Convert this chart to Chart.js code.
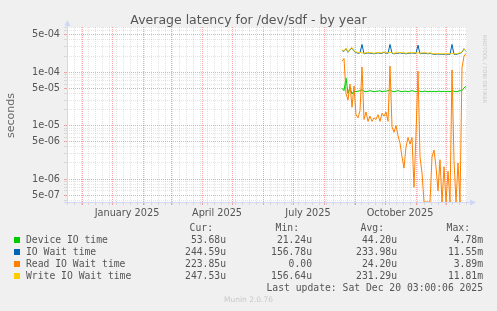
<!DOCTYPE html>
<html><head><meta charset="utf-8">
<script src="https://cdn.jsdelivr.net/npm/chart.js@4/dist/chart.umd.min.js"></script>
<style>
html,body{margin:0;padding:0;background:#f0f0f0;width:497px;height:311px;overflow:hidden;}
#wrap{position:relative;width:497px;height:311px;}
#c{position:absolute;left:0;top:0;}
.t{position:absolute;white-space:pre;line-height:1;}
.mono{font-family:'DejaVu Sans Mono',monospace;font-size:9.72px;color:#555;}
.sq{position:absolute;width:6px;height:6px;left:14px;}
</style></head>
<body><div id="wrap">
<canvas id="c" width="497" height="311"></canvas>
<div class="t" style="left:0;width:497px;top:14px;text-align:center;font-family:'DejaVu Sans';font-size:12.5px;color:#555;">Average latency for /dev/sdf - by year</div>
<div class="t" style="left:5px;top:138px;font-family:'DejaVu Sans';font-size:11px;color:#666;transform-origin:0 0;transform:rotate(-90deg);">seconds</div>
<div class="t" style="left:487px;top:35px;font-family:'DejaVu Sans';font-size:5.3px;color:#c8c8c8;transform-origin:0 0;transform:rotate(90deg);">RRDTOOL / TOBI OETIKER</div>
<div id="legend"></div>
<div class="t" style="left:0;width:497px;top:296px;text-align:center;font-family:'DejaVu Sans';font-size:7.5px;color:#c8c8c8;">Munin 2.0.76</div>
</div>
<script>
// ---- data (days counted from 1 Jan 2025) ----
const firstDay = 230;
const stepDays = 2;
const writeWait = [2.6e-4,2.5e-4,2.8e-4,2.4e-4,2.7e-4,2.9e-4,2.5e-4,2.4e-4,2.3e-4,2.35e-4,
 2.3e-4,2.25e-4,2.3e-4,2.35e-4,2.3e-4,2.3e-4,2.25e-4,2.3e-4,2.35e-4,2.3e-4,
 2.3e-4,2.4e-4,2.3e-4,2.3e-4,2.35e-4,2.3e-4,2.25e-4,2.3e-4,2.3e-4,2.35e-4,
 2.3e-4,2.3e-4,2.25e-4,2.3e-4,2.3e-4,2.35e-4,2.3e-4,2.3e-4,2.3e-4,2.25e-4,
 2.3e-4,2.3e-4,2.3e-4,2.25e-4,2.3e-4,2.25e-4,2.2e-4,2.2e-4,2.25e-4,2.2e-4,
 2.2e-4,2.2e-4,2.25e-4,2.2e-4,2.2e-4,2.25e-4,2.2e-4,2.2e-4,2.25e-4,2.3e-4,
 2.4e-4,2.7e-4,2.5e-4];
const ioWait = [2.55e-4,2.45e-4,2.75e-4,2.35e-4,2.65e-4,2.85e-4,2.45e-4,2.35e-4,2.25e-4,2.3e-4,
 3.3e-4,2.2e-4,2.25e-4,2.3e-4,2.25e-4,2.25e-4,2.2e-4,2.25e-4,2.3e-4,2.25e-4,
 2.25e-4,2.35e-4,2.25e-4,2.25e-4,3.3e-4,2.25e-4,2.2e-4,2.25e-4,2.25e-4,2.3e-4,
 2.25e-4,2.25e-4,2.2e-4,2.25e-4,2.25e-4,2.3e-4,2.25e-4,2.25e-4,3.2e-4,2.2e-4,
 2.25e-4,2.25e-4,2.25e-4,2.2e-4,2.25e-4,2.2e-4,2.15e-4,2.15e-4,2.2e-4,2.15e-4,
 2.15e-4,2.15e-4,2.2e-4,2.15e-4,2.15e-4,3.3e-4,2.15e-4,2.15e-4,2.2e-4,2.25e-4,
 2.35e-4,2.75e-4,2.45e-4];
const readWait = [1.6e-4,1.8e-4,4.0e-5,3.0e-5,6.0e-5,2.2e-5,5.5e-5,1.6e-5,1.4e-5,1.9e-5,
 1.25e-4,1.3e-5,1.8e-5,1.2e-5,1.5e-5,1.2e-5,1.4e-5,1.3e-5,1.6e-5,1.2e-5,
 1.7e-5,1.5e-5,1.8e-5,1.2e-5,1.3e-4,9.5e-6,7.5e-6,1.0e-5,6.5e-6,4.7e-6,
 2.6e-6,1.6e-6,4.0e-6,6.0e-6,4.5e-6,6.0e-6,7.0e-7,7.0e-6,1.05e-4,2.6e-6,
 1.3e-6,0,0,0,0,2.6e-6,3.5e-6,1.7e-6,6.0e-7,2.3e-6,
 0,1.7e-6,0,1.4e-6,0,1.1e-4,2.2e-6,0,2.0e-6,0,
 1.2e-4,2.0e-4,2.24e-4];
const deviceIO = [5.0e-5,4.5e-5,7.8e-5,4.0e-5,5.2e-5,3.9e-5,4.5e-5,4.3e-5,4.4e-5,4.5e-5,
 4.7e-5,4.4e-5,4.3e-5,4.4e-5,4.5e-5,4.4e-5,4.3e-5,4.4e-5,4.4e-5,4.5e-5,
 4.3e-5,4.4e-5,4.4e-5,4.5e-5,4.7e-5,4.4e-5,4.3e-5,4.4e-5,4.5e-5,4.4e-5,
 4.3e-5,4.4e-5,4.4e-5,4.3e-5,4.4e-5,4.5e-5,4.4e-5,4.3e-5,4.5e-5,4.4e-5,
 4.3e-5,4.4e-5,4.4e-5,4.3e-5,4.4e-5,4.3e-5,4.4e-5,4.3e-5,4.4e-5,4.4e-5,
 4.3e-5,4.4e-5,4.3e-5,4.4e-5,4.3e-5,4.5e-5,4.4e-5,4.3e-5,4.4e-5,4.5e-5,
 4.5e-5,5.1e-5,5.4e-5];

const seriesNames = ['Device IO time','IO Wait time','Read IO Wait time','Write IO Wait time'];
const seriesColors = ['#00CC00','#0066B3','#FF8000','#FFCC00'];
const legendCur = ['53.68u','244.59u','223.85u','247.53u'];
const legendMin = ['21.24u','156.78u','0.00','156.64u'];
const legendAvg = ['44.20u','233.98u','24.20u','231.29u'];
const legendMax = ['4.78m','11.55m','3.89m','11.81m'];
const lastUpdate = 'Last update: Sat Dec 20 03:00:06 2025';

// x axis (days from 1 Jan 2025)
const xMinDay = -45, xMaxDay = 355;
const monthStartDays = [-30,0,31,59,90,120,151,181,212,243,273,304,334];
const xLabelDays = [15,105,196,288];
const xLabelTexts = ['January 2025','April 2025','July 2025','October 2025'];
const firstSunday = -38;

// y axis
const yMin = 3.72e-7, yMax = 7.0e-4;
const yLabelValues = [5e-4,1e-4,5e-5,1e-5,5e-6,1e-6,5e-7];
const yLabelTexts = ['5e-04','1e-04','5e-05','1e-05','5e-06','1e-06','5e-07'];

// ---- legend (html text) ----
(function(){
  const L = document.getElementById('legend');
  const add = (txt, style) => { const d=document.createElement('div'); d.className='t mono'; d.textContent=txt; d.style.cssText+=style; L.appendChild(d); };
  const colsRight = [226,312,397,483];
  const headRight = [213,299,384,470];
  ['Cur:','Min:','Avg:','Max:'].forEach((h,j)=>add(h,`right:${497-headRight[j]}px;top:223px;`));
  const cols=[legendCur,legendMin,legendAvg,legendMax];
  seriesNames.forEach((n,i)=>{
    const top = 235 + i*12;
    const sq=document.createElement('div'); sq.className='sq'; sq.style.top=(top+1.5)+'px'; sq.style.background=seriesColors[i]; L.appendChild(sq);
    add(n,`left:26px;top:${top}px;`);
    cols.forEach((c,j)=>add(c[i],`right:${497-colsRight[j]}px;top:${top}px;`));
  });
  add(lastUpdate,`right:${497-483}px;top:283px;`);
})();

const xs = writeWait.map((_,i)=>firstDay+i*stepDays);
// rrdtool clamps zero values onto the floor of a logarithmic axis
const mk = (arr)=>arr.map((v,i)=>({x:xs[i],y:v>0?v:yMin}));

const RED='rgba(240,80,80,0.5)', GREY='rgba(140,140,140,0.24)';

const bgPlugin = {
  id:'bg',
  beforeDraw(chart){
    const {ctx,chartArea:a}=chart;
    ctx.save(); ctx.fillStyle='#ffffff'; ctx.fillRect(a.left,a.top,a.right-a.left,a.bottom-a.top); ctx.restore();
  },
  afterDatasetsDraw(chart){
    const {ctx,chartArea:a}=chart;
    const C='#CFD6F8';
    ctx.save(); ctx.strokeStyle=C; ctx.fillStyle=C; ctx.lineWidth=1;
    ctx.beginPath();
    ctx.moveTo(a.left-3,a.bottom+0.5); ctx.lineTo(a.right+4,a.bottom+0.5);
    ctx.moveTo(a.left+0.5,a.bottom+3); ctx.lineTo(a.left+0.5,a.top-2);
    ctx.stroke();
    ctx.beginPath(); ctx.moveTo(a.right+9,a.bottom+0.5); ctx.lineTo(a.right+3,a.bottom-2.5); ctx.lineTo(a.right+3,a.bottom+3.5); ctx.closePath(); ctx.fill();
    ctx.beginPath(); ctx.moveTo(a.left+0.5,a.top-7); ctx.lineTo(a.left-2.5,a.top-1); ctx.lineTo(a.left+3.5,a.top-1); ctx.closePath(); ctx.fill();
    ctx.restore();
  }
};

function gridColor(ctx){
  const t = ctx.tick; if(!t) return 'transparent';
  if(t.kind==='major') return RED;
  if(t.kind==='minor') return GREY;
  return 'transparent';
}

new Chart(document.getElementById('c'),{
  type:'line',
  data:{datasets:[
    {label:seriesNames[3],data:mk(writeWait),borderColor:seriesColors[3],order:0},
    {label:seriesNames[2],data:mk(readWait),borderColor:seriesColors[2],order:1},
    {label:seriesNames[1],data:mk(ioWait),borderColor:seriesColors[1],order:2},
    {label:seriesNames[0],data:mk(deviceIO),borderColor:seriesColors[0],order:3}
  ]},
  options:{
    responsive:false,animation:false,
    layout:{padding:{left:0,right:30,top:27,bottom:0}},
    elements:{line:{borderWidth:1,tension:0,fill:false},point:{radius:0}},
    plugins:{legend:{display:false},tooltip:{enabled:false},title:{display:false}},
    scales:{
      x:{type:'linear',min:xMinDay,max:xMaxDay,bounds:'data',
        afterBuildTicks(s){
          const t=[];
          monthStartDays.forEach(d=>{ if(d>=xMinDay&&d<=xMaxDay) t.push({value:d,kind:'major'}); });
          for(let d=firstSunday; d<=xMaxDay; d+=7){ if(!monthStartDays.includes(d)) t.push({value:d,kind:'minor'}); }
          xLabelDays.forEach((d,i)=>t.push({value:d,kind:'label',text:xLabelTexts[i]}));
          t.sort((a,b)=>a.value-b.value);
          s.ticks=t;
        },
        afterFit(s){ s.height=109; s.paddingLeft=0; s.paddingRight=0; },
        grid:{color:gridColor,tickColor:gridColor,lineWidth:1,drawTicks:true,tickLength:3},
        border:{display:false,dash:[1,1]},
        ticks:{autoSkip:false,maxRotation:0,minRotation:0,padding:3,color:'#555',
          font:{family:'DejaVu Sans',size:9.72},
          callback(v,i,ticks){ return ticks[i].text||''; }}
      },
      y:{type:'logarithmic',min:yMin,max:yMax,bounds:'data',
        afterBuildTicks(s){
          const t=[];
          for(let e=-7;e<=-4;e++){
            for(let k=1;k<=9;k++){
              const v=k*Math.pow(10,e);
              if(v<yMin||v>yMax) continue;
              const li=yLabelValues.findIndex(L=>Math.abs(L-v)/L<1e-6);
              t.push(li>=0?{value:v,kind:'major',text:yLabelTexts[li]}:{value:v,kind:'minor'});
            }
          }
          s.ticks=t;
        },
        afterFit(s){ s.width=67; s.paddingTop=0; s.paddingBottom=0; },
        grid:{color:gridColor,tickColor:gridColor,lineWidth:1,drawTicks:true,tickLength:3},
        border:{display:false,dash:[1,1]},
        ticks:{autoSkip:false,padding:4,color:'#555',font:{family:'DejaVu Sans',size:9.72},
          callback(v,i,ticks){ return ticks[i].text||''; }}
      }
    }
  },
  plugins:[bgPlugin]
});
</script>
</body></html>
